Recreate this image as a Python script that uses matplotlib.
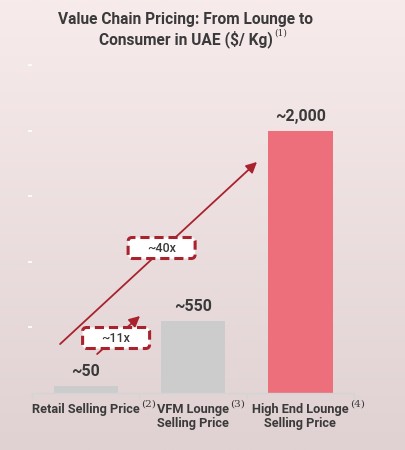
import numpy as np
import matplotlib.pyplot as plt
from matplotlib.patches import FancyBboxPatch
from matplotlib.transforms import ScaledTranslation

# data
categorias = ["Retail Selling Price", "VFM Lounge\nSelling Price", "High End Lounge\nSelling Price"]
notas = ["(2)", "(3)", "(4)"]
precos = [50, 550, 2000]
rotulos = ["~50", "~550", "~2,000"]
cores = ["#cccccc", "#cccccc", "#ec6f7b"]
multiplos = ["~11x", "~40x"]

vermelho = "#a8232d"
texto = "#3a3a3a"

fig = plt.figure(figsize=(4.06, 4.5), dpi=100)

# fundo em degradê
bg = fig.add_axes([0, 0, 1, 1], zorder=-10)
grad = np.linspace(0, 1, 256).reshape(-1, 1)
c_top = np.array([248, 235, 236]) / 255
c_bot = np.array([224, 210, 211]) / 255
img = c_top + grad[:, :, None] * (c_bot - c_top)
bg.imshow(img, aspect="auto", extent=[0, 1, 0, 1])
bg.axis("off")

ax = fig.add_axes([0.079, 0.1267, 0.793, 0.7289])
ax.patch.set_alpha(0)
x = np.arange(len(categorias))
bars = ax.bar(x, precos, width=0.6, color=cores)
ax.set_xlim(-0.5, 2.5)
ax.set_ylim(0, 2500)

for s in ["top", "right", "left"]:
    ax.spines[s].set_visible(False)
ax.spines["bottom"].set_color("#d4d4d4")
ax.spines["bottom"].set_linewidth(1)

ax.set_yticks([500, 1000, 1500, 2000, 2500])
ax.set_yticklabels([])
ax.tick_params(axis="y", colors="white", length=3, width=1.2, pad=2)
ax.set_xticks([-0.5, 0.5, 1.5, 2.5])
ax.set_xticklabels([])
ax.tick_params(axis="x", colors="#d4d4d4", length=4, width=1)

# rótulos dos valores
for xi, v, r in zip(x, precos, rotulos):
    ax.annotate(r, (xi, v), xytext=(0, 5), textcoords="offset points",
                ha="center", va="bottom", fontsize=11.5, fontweight="bold",
                family="Roboto", color=texto)

# rótulos das categorias com notas
for xi, cat, nota in zip(x, categorias, notas):
    t = ax.text(xi, -0.032, cat, transform=ax.get_xaxis_transform(),
                ha="center", va="top", fontsize=9.2, fontweight="bold",
                family="Roboto", color=texto, linespacing=1.1)
    ax.annotate(nota, xy=(1, 1), xycoords=t, xytext=(1, 3), textcoords="offset points",
                ha="left", va="top", fontsize=7.5, family="DejaVu Serif", color=texto)

# setas
ax.annotate("", xy=(1.596, 1761), xytext=(-0.239, 373),
            arrowprops=dict(arrowstyle="-|>", color=vermelho, lw=1.3,
                            mutation_scale=16, shrinkA=0, shrinkB=0))
ax.annotate("", xy=(0.506, 587), xytext=(0.106, 297),
            arrowprops=dict(arrowstyle="-|>", color=vermelho, lw=1.3,
                            mutation_scale=16, shrinkA=0, shrinkB=0))

# caixas tracejadas com os múltiplos
def caixa(xc, yc, txt):
    tr = fig.dpi_scale_trans + ScaledTranslation(xc, yc, ax.transData)
    p = FancyBboxPatch((-0.335, -0.105), 0.67, 0.21,
                       boxstyle="round,pad=0,rounding_size=0.04",
                       fc="white", ec=vermelho, lw=2.2, ls=(0, (3, 1.6)),
                       transform=tr, clip_on=False, zorder=4)
    ax.add_patch(p)
    ax.text(xc, yc, txt, ha="center", va="center", fontsize=9, fontweight="medium",
            family="Roboto", color=texto, zorder=5)

caixa(0.283, 419, multiplos[0])
caixa(0.707, 1105, multiplos[1])

# título
fig.text(0.458, 0.957, "Value Chain Pricing: From Lounge to", ha="center", va="center",
         fontsize=11.2, fontweight="bold", family="Roboto", color=texto)
t2 = fig.text(0.458, 0.914, "Consumer in UAE ($/ Kg)", ha="center", va="center",
              fontsize=11.2, fontweight="bold", family="Roboto", color=texto)
ax.annotate("(1)", xy=(1, 1), xycoords=t2, xytext=(1, 1), textcoords="offset points",
            ha="left", va="top", fontsize=6.5, family="DejaVu Serif", color=texto,
            annotation_clip=False)

fig.savefig("out.png", dpi=100)
